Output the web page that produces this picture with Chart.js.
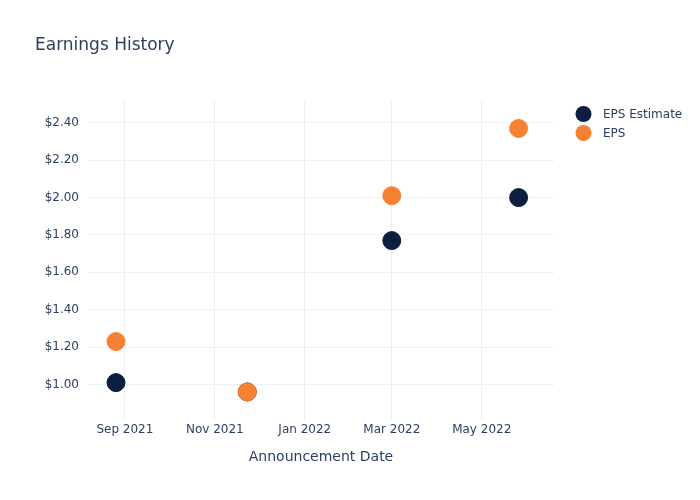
<!DOCTYPE html>
<html lang="en">
<head>
  <meta charset="UTF-8">
  <title>Earnings History</title>
  <script src="https://cdn.jsdelivr.net/npm/chart.js"></script>
  <style>
    body {
      margin: 0;
      background-color: #ffffff;
    }
    #chartContainer {
      width: 700px;
      height: 500px;
    }
  </style>
</head>
<body>
  <div id="chartContainer">
    <canvas id="earningsChart" width="700" height="500"></canvas>
  </div>

  <script>
    // announcement dates and values
    const announceDates = ['2021-08-26', '2021-11-23', '2022-03-01', '2022-05-26'];
    const epsEstimate = [1.01, 0.96, 1.77, 2.00];
    const epsActual = [1.23, 0.96, 2.01, 2.37];

    const xTickDates = ['2021-09-01', '2021-11-01', '2022-01-01', '2022-03-01', '2022-05-01'];
    const xTickLabels = ['Sep 2021', 'Nov 2021', 'Jan 2022', 'Mar 2022', 'May 2022'];
    const yTickValues = [1.0, 1.2, 1.4, 1.6, 1.8, 2.0, 2.2, 2.4];

    const textColor = '#2a3f5f';
    const gridColor = '#ebf0f8';
    const fontFamily = '"DejaVu Sans", Verdana, sans-serif';

    const toPoints = vals => vals.map((v, i) => ({ x: Date.parse(announceDates[i]), y: v }));

    // plotly-like legend at the right, drawn by hand so it sits where it should
    const sideLegend = {
      id: 'sideLegend',
      afterDraw(chart) {
        const c = chart.ctx;
        c.save();
        c.font = '12px ' + fontFamily;
        c.textBaseline = 'middle';
        chart.data.datasets.forEach((ds, i) => {
          const y = 114 + i * 19;
          c.beginPath();
          c.arc(583.5, y, 8, 0, Math.PI * 2);
          c.fillStyle = ds.backgroundColor;
          c.fill();
          c.fillStyle = textColor;
          c.fillText(ds.label, 603, y + 1);
        });
        c.restore();
      }
    };

    const ctx = document.getElementById('earningsChart').getContext('2d');

    const chart = new Chart(ctx, {
      type: 'scatter',
      data: {
        datasets: [{
          label: 'EPS Estimate',
          data: toPoints(epsEstimate),
          backgroundColor: '#0c1f41',
          borderColor: '#0c1f41',
          pointRadius: 9,
          pointHoverRadius: 9,
          order: 1
        }, {
          label: 'EPS',
          data: toPoints(epsActual),
          backgroundColor: '#f58134',
          borderColor: '#f58134',
          pointRadius: 9,
          pointHoverRadius: 9,
          order: 0
        }]
      },
      plugins: [sideLegend],
      options: {
        responsive: false,
        animation: false,
        layout: {
          padding: { left: 35, right: 146, top: 0, bottom: 0 }
        },
        plugins: {
          title: {
            display: true,
            text: 'Earnings History',
            align: 'start',
            color: textColor,
            font: { family: fontFamily, size: 17, weight: 'normal' },
            padding: { top: 35, bottom: 45 }
          },
          legend: { display: false },
          tooltip: { enabled: false }
        },
        scales: {
          x: {
            type: 'linear',
            min: Date.parse('2021-08-07'),
            max: Date.parse('2022-06-19'),
            afterBuildTicks: scale => {
              scale.ticks = xTickDates.map(d => ({ value: Date.parse(d) }));
            },
            afterFit: scale => { scale.height = 80; },
            ticks: {
              color: textColor,
              font: { family: fontFamily, size: 12 },
              maxRotation: 0,
              autoSkip: false,
              padding: 3,
              callback: (val, idx) => xTickLabels[idx]
            },
            grid: { color: gridColor, drawTicks: false },
            border: { display: false },
            title: {
              display: true,
              text: 'Announcement Date',
              color: textColor,
              font: { family: fontFamily, size: 14 },
              padding: { top: 4, bottom: 34 }
            }
          },
          y: {
            min: 0.81,
            max: 2.52,
            afterBuildTicks: scale => {
              scale.ticks = yTickValues.map(v => ({ value: v }));
            },
            afterFit: scale => { scale.width = 53; },
            ticks: {
              color: textColor,
              font: { family: fontFamily, size: 12 },
              padding: 9,
              callback: val => '$' + val.toFixed(2)
            },
            grid: { color: gridColor, drawTicks: false },
            border: { display: false }
          }
        }
      }
    });
  </script>
</body>
</html>
